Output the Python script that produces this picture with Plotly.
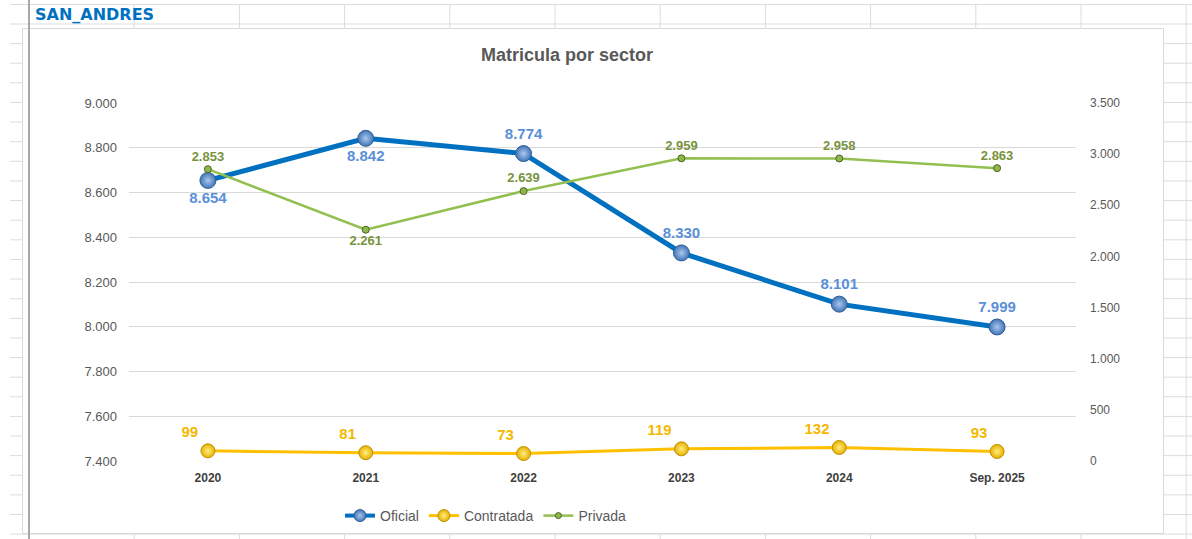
import plotly.graph_objects as go

# ---- data ----
categories = ["2020", "2021", "2022", "2023", "2024", "Sep. 2025"]
oficial = [8654, 8842, 8774, 8330, 8101, 7999]
contratada = [99, 81, 73, 119, 132, 93]
privada = [2853, 2261, 2639, 2959, 2958, 2863]

left_ticks = [7400, 7600, 7800, 8000, 8200, 8400, 8600, 8800, 9000]
right_ticks = [0, 500, 1000, 1500, 2000, 2500, 3000, 3500]


def fmt(v):
    return f"{v:,}".replace(",", ".")


W, H = 1192, 539
L, R, T, B = 129, 116, 103, 78
PW, PH = W - L - R, H - T - B


def px(x):
    return (x - L) / PW


def py(y):
    return (H - B - y) / PH


FONT = "Liberation Sans, Arial, sans-serif"

OF_LINE = dict(color="#0070C0", width=5)
OF_MARK = dict(color="#4275B5", line=dict(color="#2F5F98", width=1),
               gradient=dict(type="radial", color="#A9C8EE"))
CO_LINE = dict(color="#FFC000", width=3)
CO_MARK = dict(color="#E8B000", line=dict(color="#C09000", width=1),
               gradient=dict(type="radial", color="#FFEE80"))
PR_LINE = dict(color="#92C050", width=2.5)
PR_MARK = dict(color="#8DB84A", line=dict(color="#4F6228", width=1))

fig = go.Figure()

fig.add_trace(go.Scatter(
    x=categories, y=oficial, name="Oficial", mode="lines+markers+text",
    line=OF_LINE, marker=dict(size=16, **OF_MARK),
    text=[fmt(v) for v in oficial],
    textposition=["bottom center", "bottom center", "top center",
                  "top center", "top center", "top center"],
    textfont=dict(family=FONT, size=15, color="#5B8FD8", weight="bold"),
    yaxis="y", showlegend=False,
))

fig.add_trace(go.Scatter(
    x=categories, y=contratada, name="Contratada", mode="lines+markers+text",
    line=CO_LINE, marker=dict(size=14, **CO_MARK),
    text=[fmt(v) for v in contratada],
    textposition="top left",
    textfont=dict(family=FONT, size=15, color="#F5B800", weight="bold"),
    yaxis="y2", showlegend=False,
))

fig.add_trace(go.Scatter(
    x=categories, y=privada, name="Privada", mode="lines+markers+text",
    line=PR_LINE, marker=dict(size=7, **PR_MARK),
    text=[fmt(v) for v in privada],
    textposition=["top center", "bottom center", "top center",
                  "top center", "top center", "top center"],
    textfont=dict(family=FONT, size=13, color="#77933C", weight="bold"),
    yaxis="y2", showlegend=False,
))

# legend entries (smaller symbols like the Excel legend)
for name, ln, mk, sz, yax in [("Oficial", dict(color="#0070C0", width=4), OF_MARK, 12, "y"),
                              ("Contratada", CO_LINE, CO_MARK, 12, "y2"),
                              ("Privada", PR_LINE, PR_MARK, 6, "y2")]:
    fig.add_trace(go.Scatter(x=[None], y=[None], name=name, mode="lines+markers",
                             line=ln, marker=dict(size=sz, **mk), yaxis=yax,
                             showlegend=True))

# ---- spreadsheet background (decoration) ----
shapes = []
grid_c = "#DCDCDC"
shapes.append(dict(type="line", xref="paper", yref="paper",
                   x0=px(10), x1=px(W), y0=py(4.5), y1=py(4.5),
                   line=dict(color=grid_c, width=1), layer="below"))
y = 24.0
while y < H:
    shapes.append(dict(type="line", xref="paper", yref="paper",
                       x0=px(10), x1=px(W), y0=py(y), y1=py(y),
                       line=dict(color=grid_c, width=1), layer="below"))
    y += 19.62
x = 29.0
k = 0
while x < W:
    shapes.append(dict(type="line", xref="paper", yref="paper",
                       x0=px(x), x1=px(x), y0=py(4.5 if k else 0), y1=py(H),
                       line=dict(color="#A8A8A8" if k == 0 else grid_c,
                                 width=2 if k == 0 else 1), layer="below"))
    x += 105.2
    k += 1
shapes.append(dict(type="rect", xref="paper", yref="paper",
                   x0=px(22.5), x1=px(1163.5), y0=py(28.5), y1=py(533.5),
                   fillcolor="white", line=dict(color="#D9D9D9", width=1),
                   layer="below"))
shapes.append(dict(type="line", xref="paper", yref="paper",
                   x0=px(29), x1=px(29), y0=py(0), y1=py(H),
                   line=dict(color="#A8A8A8", width=2), layer="below"))

annotations = [
    dict(text="<b>SAN_ANDRES</b>", xref="paper", yref="paper",
         x=px(33), y=py(14), xanchor="left", yanchor="middle", showarrow=False,
         font=dict(family="DejaVu Sans, Verdana, sans-serif", size=16, color="#0070C0")),
    dict(text="<b>Matricula por sector</b>", xref="paper", yref="paper",
         x=px(567), y=py(55), xanchor="center", yanchor="middle", showarrow=False,
         font=dict(family=FONT, size=18, color="#595959")),
]

fig.update_layout(
    width=W, height=H,
    margin=dict(l=L, r=R, t=T, b=B, autoexpand=False),
    paper_bgcolor="white", plot_bgcolor="rgba(0,0,0,0)",
    separators=",.",
    font=dict(family=FONT, color="#595959"),
    shapes=shapes, annotations=annotations,
    showlegend=True,
    legend=dict(orientation="h", x=px(486), y=py(516), xanchor="center",
                yanchor="middle", font=dict(size=14, color="#595959"),
                bgcolor="rgba(0,0,0,0)", itemwidth=30, tracegroupgap=0),
    xaxis=dict(type="category", range=[-0.5, 5.5], showgrid=False,
               showline=False, zeroline=False, ticks="", ticklabelstandoff=8,
               tickfont=dict(family=FONT, size=12, color="#404040", weight="bold")),
    yaxis=dict(range=[7400, 9000], tickvals=left_ticks, tickformat=",.0f",
               showgrid=True, gridcolor="#D9D9D9", gridwidth=1, zeroline=False,
               showline=False, ticks="", ticklabelstandoff=11,
               tickfont=dict(family=FONT, size=13, color="#595959")),
    yaxis2=dict(range=[0, 3500], tickvals=right_ticks, tickformat=",.0f",
                overlaying="y", side="right", showgrid=False, zeroline=False,
                showline=False, ticks="", ticklabelstandoff=13,
                tickfont=dict(family=FONT, size=12, color="#595959")),
)

fig.write_html("out.html", config={"displayModeBar": False},
               post_script="document.body.style.margin='0';")
